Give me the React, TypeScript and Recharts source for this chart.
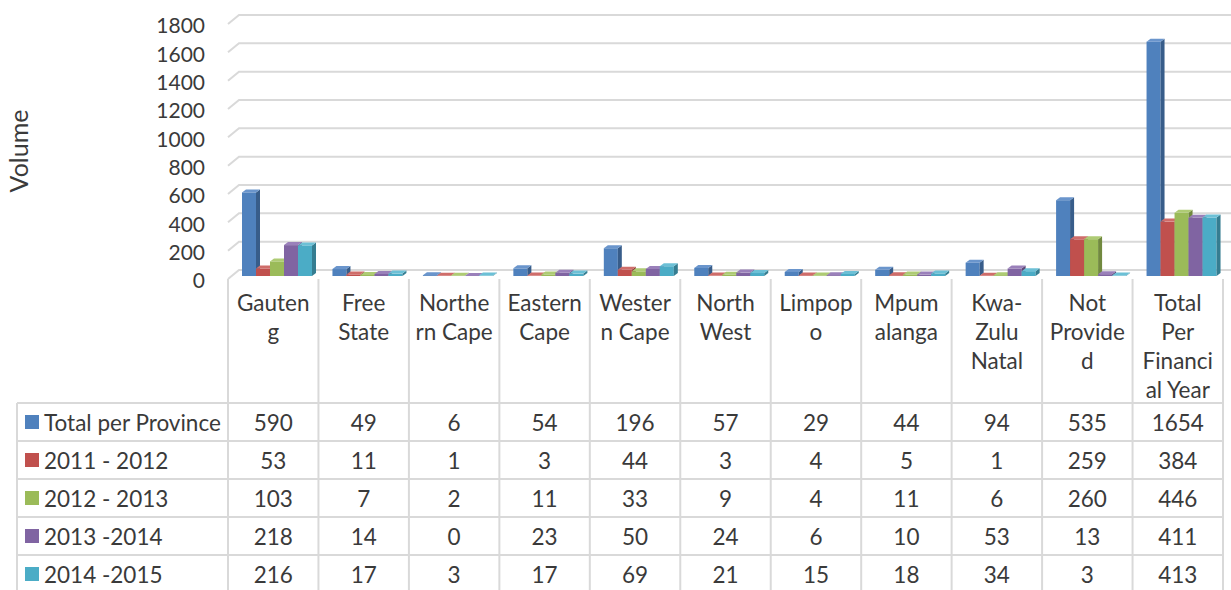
import React from 'react';
import { BarChart, Bar, XAxis, YAxis, CartesianGrid } from 'recharts';

const categories = [
  'Gauteng',
  'Free State',
  'Northern Cape',
  'Eastern Cape',
  'Western Cape',
  'North West',
  'Limpopo',
  'Mpumalanga',
  'Kwa-Zulu Natal',
  'Not Provided',
  'Total Per Financial Year',
];
// category labels as wrapped in the source table header
const categoryLines = [
  ['Gauten', 'g'],
  ['Free', 'State'],
  ['Northe', 'rn Cape'],
  ['Eastern', 'Cape'],
  ['Wester', 'n Cape'],
  ['North', 'West'],
  ['Limpop', 'o'],
  ['Mpum', 'alanga'],
  ['Kwa-', 'Zulu', 'Natal'],
  ['Not', 'Provide', 'd'],
  ['Total', 'Per', 'Financi', 'al Year'],
];
const seriesKeys = ['total', 'y2011', 'y2012', 'y2013', 'y2014'];
const seriesNames = ['Total per Province', '2011 - 2012', '2012 - 2013', '2013 -2014', '2014 -2015'];
const totalPerProvince = [590, 49, 6, 54, 196, 57, 29, 44, 94, 535, 1654];
const fy2011 = [53, 11, 1, 3, 44, 3, 4, 5, 1, 259, 384];
const fy2012 = [103, 7, 2, 11, 33, 9, 4, 11, 6, 260, 446];
const fy2013 = [218, 14, 0, 23, 50, 24, 6, 10, 53, 13, 411];
const fy2014 = [216, 17, 3, 17, 69, 21, 15, 18, 34, 3, 413];
const yTicks = [0, 200, 400, 600, 800, 1000, 1200, 1400, 1600, 1800];

const seriesValues = [totalPerProvince, fy2011, fy2012, fy2013, fy2014];
const colors = ['#4F81BD', '#C0504D', '#9BBB59', '#8064A2', '#4BACC6'];
const sideColors = ['#385D8A', '#8C3836', '#71893F', '#5C4776', '#357D91'];
const topColors = ['#6A95CC', '#CF6D6A', '#AECB74', '#9A80BA', '#6CC0D6'];

const data = categories.map((name, i) => ({
  name,
  total: totalPerProvince[i],
  y2011: fy2011[i],
  y2012: fy2012[i],
  y2013: fy2013[i],
  y2014: fy2014[i],
}));

const W = 1231;
const H = 590;
const LEFT = 228;
const RIGHT = 8;
const bandW = (W - LEFT - RIGHT) / categories.length;
const gridColor = '#d9d9d9';
const textColor = '#3a3a3a';
const font = 'Lato, "Open Sans", sans-serif';

const make3dBar = (s: number) => (props: any) => {
  const { x, y, width, height } = props;
  const bx = x + 4;
  const by = y - 3;
  const h = Math.max(height, 0);
  const d = 4;
  return (
    <g>
      <rect x={bx} y={by} width={width} height={h} fill={colors[s]} />
      <polygon
        points={`${bx + width},${by} ${bx + width + d},${by - d + 1} ${bx + width + d},${by + h - d + 1} ${bx + width},${by + h}`}
        fill={sideColors[s]}
      />
      <polygon
        points={`${bx},${by} ${bx + d},${by - d + 1} ${bx + width + d},${by - d + 1} ${bx + width},${by}`}
        fill={topColors[s]}
      />
    </g>
  );
};

const GridLine = (props: any) => {
  const { x1, y1, x2 } = props;
  return (
    <path
      d={`M${x1},${y1} L${x1 + 11},${y1 - 9} L${x2 + RIGHT},${y1 - 9}`}
      stroke={gridColor}
      strokeWidth={2}
      fill='none'
    />
  );
};

const TableTick = (props: any) => {
  const { x, y, index } = props;
  const left = x - bandW / 2;
  const right = x + bandW / 2;
  const rowTop = y + 124;
  const rowH = 38;
  const lines = categoryLines[index] || [];
  return (
    <g fontFamily={font} fontSize={22.5} fill={textColor}>
      <line x1={left} y1={y} x2={left} y2={H} stroke={gridColor} strokeWidth={2} />
      {index === categories.length - 1 && (
        <line x1={right} y1={y} x2={right} y2={H} stroke={gridColor} strokeWidth={2} />
      )}
      {lines.map((t, k) => (
        <text key={k} x={x} y={y + 23 + k * 29} textAnchor='middle' dominantBaseline='central'>
          {t}
        </text>
      ))}
      {seriesValues.map((vals, r) => (
        <g key={r}>
          <line x1={left} y1={rowTop + r * rowH} x2={right} y2={rowTop + r * rowH} stroke={gridColor} strokeWidth={2} />
          <text x={x} y={rowTop + r * rowH + 19} textAnchor='middle' dominantBaseline='central'>
            {vals[index]}
          </text>
        </g>
      ))}
      {index === 0 && (
        <g>
          <line x1={17} y1={rowTop} x2={17} y2={H} stroke={gridColor} strokeWidth={2} />
          {seriesNames.map((n, r) => (
            <g key={n}>
              <line x1={17} y1={rowTop + r * rowH} x2={left} y2={rowTop + r * rowH} stroke={gridColor} strokeWidth={2} />
              <rect x={25} y={rowTop + r * rowH + 12} width={14} height={14} fill={colors[r]} />
              <text x={44} y={rowTop + r * rowH + 19} dominantBaseline='central'>
                {n}
              </text>
            </g>
          ))}
        </g>
      )}
    </g>
  );
};

const App: React.FC = () => {
  return (
    <div style={{ position: 'absolute', left: 0, top: 0, width: W, height: H, background: '#fff', fontFamily: font }}>
      <div
        style={{
          position: 'absolute',
          left: 18,
          top: 151,
          transform: 'translate(-50%, -50%) rotate(-90deg)',
          fontSize: 25,
          color: textColor,
          whiteSpace: 'nowrap',
        }}
      >
        Volume
      </div>
      <BarChart
        width={W}
        height={H}
        data={data}
        margin={{ top: 24, right: RIGHT, left: 0, bottom: 0 }}
        barCategoryGap={10}
        barGap={0}
      >
        <CartesianGrid vertical={false} horizontal={(p: any) => <GridLine key={p.key} {...p} />} />
        <XAxis
          dataKey='name'
          height={311}
          interval={0}
          axisLine={false}
          tickLine={false}
          tickSize={0}
          tickMargin={0}
          tick={<TableTick />}
        />
        <YAxis
          width={LEFT}
          domain={[0, 1800]}
          ticks={yTicks}
          interval={0}
          axisLine={false}
          tickLine={false}
          tickMargin={17}
          tick={{ fill: textColor, fontSize: 21, fontFamily: font, dy: 2 }}
        />
        {seriesKeys.map((k, s) => (
          <Bar key={k} dataKey={k} name={seriesNames[s]} fill={colors[s]} shape={make3dBar(s)} isAnimationActive={false} />
        ))}
      </BarChart>
    </div>
  );
};

export default App;
